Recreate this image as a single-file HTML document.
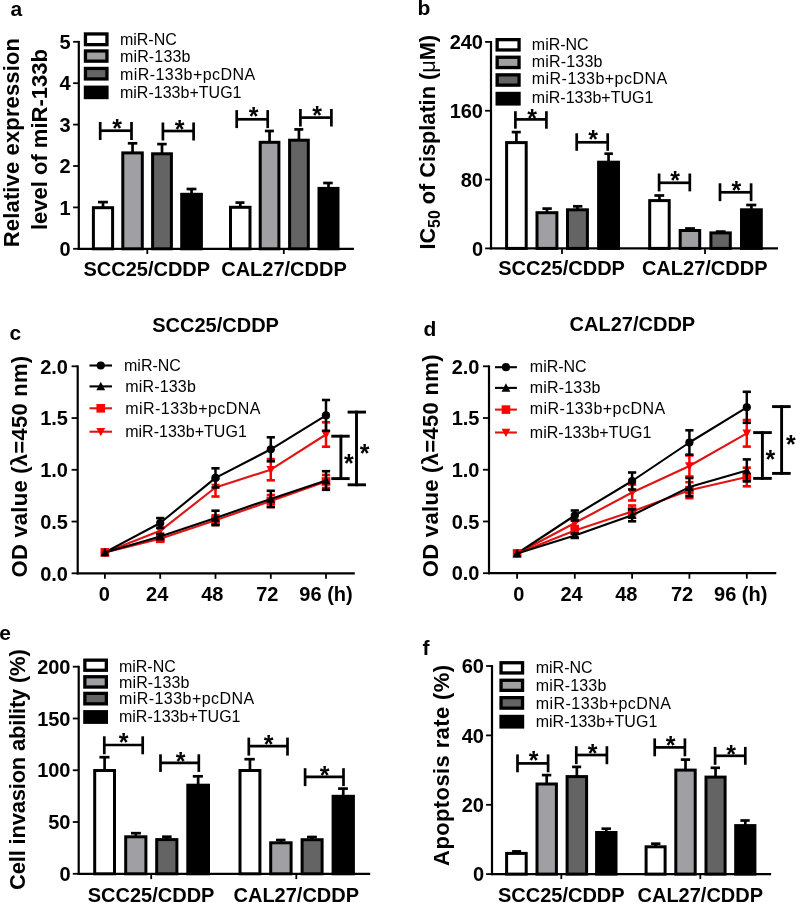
<!DOCTYPE html><html><head><meta charset="utf-8"><style>html,body{margin:0;padding:0;background:#fff;overflow:hidden;}svg{display:block;font-family:"Liberation Sans",sans-serif;will-change:transform;}</style></head><body>
<svg width="796" height="903" viewBox="0 0 796 903">
<rect width="796" height="903" fill="#fff"/>
<line x1="78.80" y1="40.90" x2="78.80" y2="249.90" stroke="#000" stroke-width="2.2" stroke-linecap="butt"/>
<line x1="73.10" y1="248.80" x2="78.80" y2="248.80" stroke="#000" stroke-width="1.8" stroke-linecap="butt"/>
<text x="70.50" y="256.00" font-size="20" font-weight="bold" text-anchor="end">0</text>
<line x1="73.10" y1="207.40" x2="78.80" y2="207.40" stroke="#000" stroke-width="1.8" stroke-linecap="butt"/>
<text x="70.50" y="214.60" font-size="20" font-weight="bold" text-anchor="end">1</text>
<line x1="73.10" y1="166.00" x2="78.80" y2="166.00" stroke="#000" stroke-width="1.8" stroke-linecap="butt"/>
<text x="70.50" y="173.20" font-size="20" font-weight="bold" text-anchor="end">2</text>
<line x1="73.10" y1="124.60" x2="78.80" y2="124.60" stroke="#000" stroke-width="1.8" stroke-linecap="butt"/>
<text x="70.50" y="131.80" font-size="20" font-weight="bold" text-anchor="end">3</text>
<line x1="73.10" y1="83.20" x2="78.80" y2="83.20" stroke="#000" stroke-width="1.8" stroke-linecap="butt"/>
<text x="70.50" y="90.40" font-size="20" font-weight="bold" text-anchor="end">4</text>
<line x1="73.10" y1="41.80" x2="78.80" y2="41.80" stroke="#000" stroke-width="1.8" stroke-linecap="butt"/>
<text x="70.50" y="49.00" font-size="20" font-weight="bold" text-anchor="end">5</text>
<line x1="77.70" y1="248.80" x2="354.00" y2="248.80" stroke="#000" stroke-width="2.2" stroke-linecap="butt"/>
<line x1="147.30" y1="248.80" x2="147.30" y2="254.00" stroke="#000" stroke-width="1.8" stroke-linecap="butt"/>
<line x1="283.80" y1="248.80" x2="283.80" y2="254.00" stroke="#000" stroke-width="1.8" stroke-linecap="butt"/>
<line x1="103.00" y1="207.20" x2="103.00" y2="202.10" stroke="#000" stroke-width="2.7" stroke-linecap="butt"/>
<line x1="98.00" y1="202.10" x2="107.90" y2="202.10" stroke="#000" stroke-width="2.7" stroke-linecap="butt"/>
<rect x="93.40" y="207.70" width="19.20" height="41.10" fill="#fff" stroke="#000" stroke-width="3.0"/>
<line x1="132.55" y1="152.40" x2="132.55" y2="143.30" stroke="#000" stroke-width="2.7" stroke-linecap="butt"/>
<line x1="127.80" y1="143.30" x2="137.30" y2="143.30" stroke="#000" stroke-width="2.7" stroke-linecap="butt"/>
<rect x="122.80" y="152.90" width="19.50" height="95.90" fill="#a0a0a4" stroke="#000" stroke-width="3.0"/>
<line x1="162.00" y1="153.30" x2="162.00" y2="144.10" stroke="#000" stroke-width="2.7" stroke-linecap="butt"/>
<line x1="157.20" y1="144.10" x2="166.70" y2="144.10" stroke="#000" stroke-width="2.7" stroke-linecap="butt"/>
<rect x="152.60" y="153.80" width="18.80" height="95.00" fill="#646464" stroke="#000" stroke-width="3.0"/>
<line x1="191.55" y1="193.80" x2="191.55" y2="189.00" stroke="#000" stroke-width="2.7" stroke-linecap="butt"/>
<line x1="186.60" y1="189.00" x2="196.40" y2="189.00" stroke="#000" stroke-width="2.7" stroke-linecap="butt"/>
<rect x="181.70" y="194.30" width="19.70" height="54.50" fill="#000" stroke="#000" stroke-width="3.0"/>
<line x1="240.25" y1="206.80" x2="240.25" y2="202.60" stroke="#000" stroke-width="2.7" stroke-linecap="butt"/>
<line x1="235.50" y1="202.60" x2="244.50" y2="202.60" stroke="#000" stroke-width="2.7" stroke-linecap="butt"/>
<rect x="230.50" y="207.30" width="19.50" height="41.50" fill="#fff" stroke="#000" stroke-width="3.0"/>
<line x1="269.55" y1="141.80" x2="269.55" y2="131.00" stroke="#000" stroke-width="2.7" stroke-linecap="butt"/>
<line x1="264.90" y1="131.00" x2="273.90" y2="131.00" stroke="#000" stroke-width="2.7" stroke-linecap="butt"/>
<rect x="260.20" y="142.30" width="18.70" height="106.50" fill="#a0a0a4" stroke="#000" stroke-width="3.0"/>
<line x1="298.95" y1="139.70" x2="298.95" y2="129.40" stroke="#000" stroke-width="2.7" stroke-linecap="butt"/>
<line x1="294.30" y1="129.40" x2="303.30" y2="129.40" stroke="#000" stroke-width="2.7" stroke-linecap="butt"/>
<rect x="289.60" y="140.20" width="18.70" height="108.60" fill="#646464" stroke="#000" stroke-width="3.0"/>
<line x1="328.50" y1="187.90" x2="328.50" y2="183.00" stroke="#000" stroke-width="2.7" stroke-linecap="butt"/>
<line x1="323.20" y1="183.00" x2="332.70" y2="183.00" stroke="#000" stroke-width="2.7" stroke-linecap="butt"/>
<rect x="319.00" y="188.40" width="19.00" height="60.40" fill="#000" stroke="#000" stroke-width="3.0"/>
<line x1="100.20" y1="122.00" x2="100.20" y2="140.00" stroke="#000" stroke-width="2.7" stroke-linecap="butt"/>
<line x1="131.50" y1="122.00" x2="131.50" y2="140.00" stroke="#000" stroke-width="2.7" stroke-linecap="butt"/>
<line x1="100.20" y1="130.70" x2="131.50" y2="130.70" stroke="#000" stroke-width="2.7" stroke-linecap="butt"/>
<text x="117.20" y="137.45" font-size="25" font-weight="bold" text-anchor="middle">*</text>
<line x1="162.90" y1="122.50" x2="162.90" y2="140.50" stroke="#000" stroke-width="2.7" stroke-linecap="butt"/>
<line x1="193.60" y1="122.50" x2="193.60" y2="140.50" stroke="#000" stroke-width="2.7" stroke-linecap="butt"/>
<line x1="162.90" y1="131.00" x2="193.60" y2="131.00" stroke="#000" stroke-width="2.7" stroke-linecap="butt"/>
<text x="179.70" y="137.75" font-size="25" font-weight="bold" text-anchor="middle">*</text>
<line x1="236.70" y1="110.10" x2="236.70" y2="128.10" stroke="#000" stroke-width="2.7" stroke-linecap="butt"/>
<line x1="267.70" y1="110.10" x2="267.70" y2="128.10" stroke="#000" stroke-width="2.7" stroke-linecap="butt"/>
<line x1="236.70" y1="119.30" x2="267.70" y2="119.30" stroke="#000" stroke-width="2.7" stroke-linecap="butt"/>
<text x="253.50" y="125.15" font-size="25" font-weight="bold" text-anchor="middle">*</text>
<line x1="300.40" y1="109.00" x2="300.40" y2="126.50" stroke="#000" stroke-width="2.7" stroke-linecap="butt"/>
<line x1="331.40" y1="109.00" x2="331.40" y2="126.50" stroke="#000" stroke-width="2.7" stroke-linecap="butt"/>
<line x1="300.40" y1="117.60" x2="331.40" y2="117.60" stroke="#000" stroke-width="2.7" stroke-linecap="butt"/>
<text x="317.20" y="123.55" font-size="25" font-weight="bold" text-anchor="middle">*</text>
<text x="146.80" y="276.00" font-size="20" font-weight="bold" text-anchor="middle">SCC25/CDDP</text>
<text x="284.00" y="276.00" font-size="20" font-weight="bold" text-anchor="middle">CAL27/CDDP</text>
<rect x="85.45" y="33.95" width="21.50" height="10.70" fill="#fff" stroke="#000" stroke-width="3.3"/>
<text x="119.90" y="45.30" font-size="16" font-weight="normal" text-anchor="start">miR-NC</text>
<rect x="85.45" y="50.95" width="21.50" height="10.20" fill="#a0a0a4" stroke="#000" stroke-width="3.3"/>
<text x="119.90" y="62.00" font-size="16" font-weight="normal" text-anchor="start" textLength="70.6" lengthAdjust="spacing">miR-133b</text>
<rect x="85.45" y="68.45" width="21.50" height="10.50" fill="#646464" stroke="#000" stroke-width="3.3"/>
<text x="119.90" y="80.10" font-size="16" font-weight="normal" text-anchor="start" textLength="135.3" lengthAdjust="spacing">miR-133b+pcDNA</text>
<rect x="85.45" y="87.25" width="21.50" height="10.30" fill="#000" stroke="#000" stroke-width="3.3"/>
<text x="119.90" y="97.60" font-size="16" font-weight="normal" text-anchor="start" textLength="121.6" lengthAdjust="spacing">miR-133b+TUG1</text>
<text x="10.50" y="15.50" font-size="21" font-weight="bold" text-anchor="start">a</text>
<text transform="translate(19.40,142.55) rotate(-90)" x="0" y="0" font-size="22" font-weight="bold" text-anchor="middle" textLength="209.2" lengthAdjust="spacing">Relative expression</text>
<text transform="translate(47.10,139.60) rotate(-90)" x="0" y="0" font-size="22" font-weight="bold" text-anchor="middle">level of miR-133b</text>
<line x1="491.00" y1="41.00" x2="491.00" y2="249.50" stroke="#000" stroke-width="2.2" stroke-linecap="butt"/>
<line x1="485.10" y1="248.40" x2="491.00" y2="248.40" stroke="#000" stroke-width="1.8" stroke-linecap="butt"/>
<text x="483.00" y="255.60" font-size="20" font-weight="bold" text-anchor="end">0</text>
<line x1="485.10" y1="179.57" x2="491.00" y2="179.57" stroke="#000" stroke-width="1.8" stroke-linecap="butt"/>
<text x="483.00" y="186.77" font-size="20" font-weight="bold" text-anchor="end">80</text>
<line x1="485.10" y1="110.73" x2="491.00" y2="110.73" stroke="#000" stroke-width="1.8" stroke-linecap="butt"/>
<text x="483.00" y="117.93" font-size="20" font-weight="bold" text-anchor="end">160</text>
<line x1="485.10" y1="41.90" x2="491.00" y2="41.90" stroke="#000" stroke-width="1.8" stroke-linecap="butt"/>
<text x="483.00" y="49.10" font-size="20" font-weight="bold" text-anchor="end">240</text>
<line x1="489.90" y1="248.40" x2="778.00" y2="248.40" stroke="#000" stroke-width="2.2" stroke-linecap="butt"/>
<line x1="562.00" y1="248.40" x2="562.00" y2="254.00" stroke="#000" stroke-width="1.8" stroke-linecap="butt"/>
<line x1="705.00" y1="248.40" x2="705.00" y2="254.00" stroke="#000" stroke-width="1.8" stroke-linecap="butt"/>
<line x1="516.40" y1="142.10" x2="516.40" y2="132.10" stroke="#000" stroke-width="2.7" stroke-linecap="butt"/>
<line x1="511.70" y1="132.10" x2="520.80" y2="132.10" stroke="#000" stroke-width="2.7" stroke-linecap="butt"/>
<rect x="506.60" y="142.60" width="19.60" height="105.80" fill="#fff" stroke="#000" stroke-width="3.0"/>
<line x1="546.95" y1="212.20" x2="546.95" y2="208.60" stroke="#000" stroke-width="2.7" stroke-linecap="butt"/>
<line x1="542.40" y1="208.60" x2="551.80" y2="208.60" stroke="#000" stroke-width="2.7" stroke-linecap="butt"/>
<rect x="537.00" y="212.70" width="19.90" height="35.70" fill="#a0a0a4" stroke="#000" stroke-width="3.0"/>
<line x1="577.45" y1="209.30" x2="577.45" y2="206.30" stroke="#000" stroke-width="2.7" stroke-linecap="butt"/>
<line x1="573.00" y1="206.30" x2="582.40" y2="206.30" stroke="#000" stroke-width="2.7" stroke-linecap="butt"/>
<rect x="567.50" y="209.80" width="19.90" height="38.60" fill="#646464" stroke="#000" stroke-width="3.0"/>
<line x1="608.55" y1="161.70" x2="608.55" y2="153.70" stroke="#000" stroke-width="2.7" stroke-linecap="butt"/>
<line x1="604.40" y1="153.70" x2="612.90" y2="153.70" stroke="#000" stroke-width="2.7" stroke-linecap="butt"/>
<rect x="598.60" y="162.20" width="19.90" height="86.20" fill="#000" stroke="#000" stroke-width="3.0"/>
<line x1="659.45" y1="200.10" x2="659.45" y2="195.50" stroke="#000" stroke-width="2.7" stroke-linecap="butt"/>
<line x1="654.40" y1="195.50" x2="664.20" y2="195.50" stroke="#000" stroke-width="2.7" stroke-linecap="butt"/>
<rect x="649.70" y="200.60" width="19.50" height="47.80" fill="#fff" stroke="#000" stroke-width="3.0"/>
<line x1="689.95" y1="230.00" x2="689.95" y2="228.50" stroke="#000" stroke-width="2.7" stroke-linecap="butt"/>
<line x1="685.10" y1="228.50" x2="694.90" y2="228.50" stroke="#000" stroke-width="2.7" stroke-linecap="butt"/>
<rect x="680.20" y="230.50" width="19.50" height="17.90" fill="#a0a0a4" stroke="#000" stroke-width="3.0"/>
<line x1="720.60" y1="232.40" x2="720.60" y2="231.60" stroke="#000" stroke-width="2.7" stroke-linecap="butt"/>
<line x1="715.80" y1="231.60" x2="725.60" y2="231.60" stroke="#000" stroke-width="2.7" stroke-linecap="butt"/>
<rect x="710.90" y="232.90" width="19.40" height="15.50" fill="#646464" stroke="#000" stroke-width="3.0"/>
<line x1="751.40" y1="209.30" x2="751.40" y2="205.00" stroke="#000" stroke-width="2.7" stroke-linecap="butt"/>
<line x1="746.20" y1="205.00" x2="756.30" y2="205.00" stroke="#000" stroke-width="2.7" stroke-linecap="butt"/>
<rect x="741.50" y="209.80" width="19.80" height="38.60" fill="#000" stroke="#000" stroke-width="3.0"/>
<line x1="515.40" y1="111.20" x2="515.40" y2="128.70" stroke="#000" stroke-width="2.7" stroke-linecap="butt"/>
<line x1="546.40" y1="111.20" x2="546.40" y2="128.70" stroke="#000" stroke-width="2.7" stroke-linecap="butt"/>
<line x1="515.40" y1="119.40" x2="546.40" y2="119.40" stroke="#000" stroke-width="2.7" stroke-linecap="butt"/>
<text x="532.20" y="126.65" font-size="25" font-weight="bold" text-anchor="middle">*</text>
<line x1="576.70" y1="133.30" x2="576.70" y2="150.80" stroke="#000" stroke-width="2.7" stroke-linecap="butt"/>
<line x1="607.70" y1="133.30" x2="607.70" y2="150.80" stroke="#000" stroke-width="2.7" stroke-linecap="butt"/>
<line x1="576.70" y1="142.30" x2="607.70" y2="142.30" stroke="#000" stroke-width="2.7" stroke-linecap="butt"/>
<text x="593.00" y="148.35" font-size="25" font-weight="bold" text-anchor="middle">*</text>
<line x1="659.10" y1="173.50" x2="659.10" y2="191.40" stroke="#000" stroke-width="2.7" stroke-linecap="butt"/>
<line x1="689.80" y1="173.50" x2="689.80" y2="191.40" stroke="#000" stroke-width="2.7" stroke-linecap="butt"/>
<line x1="659.10" y1="182.80" x2="689.80" y2="182.80" stroke="#000" stroke-width="2.7" stroke-linecap="butt"/>
<text x="675.10" y="189.25" font-size="25" font-weight="bold" text-anchor="middle">*</text>
<line x1="720.00" y1="183.30" x2="720.00" y2="201.20" stroke="#000" stroke-width="2.7" stroke-linecap="butt"/>
<line x1="751.10" y1="183.30" x2="751.10" y2="201.20" stroke="#000" stroke-width="2.7" stroke-linecap="butt"/>
<line x1="720.00" y1="192.30" x2="751.10" y2="192.30" stroke="#000" stroke-width="2.7" stroke-linecap="butt"/>
<text x="736.40" y="199.15" font-size="25" font-weight="bold" text-anchor="middle">*</text>
<text x="561.60" y="274.70" font-size="20" font-weight="bold" text-anchor="middle">SCC25/CDDP</text>
<text x="704.70" y="274.70" font-size="20" font-weight="bold" text-anchor="middle">CAL27/CDDP</text>
<rect x="497.15" y="39.65" width="21.90" height="10.30" fill="#fff" stroke="#000" stroke-width="3.3"/>
<text x="531.80" y="49.60" font-size="16" font-weight="normal" text-anchor="start">miR-NC</text>
<rect x="497.15" y="57.25" width="21.90" height="10.30" fill="#a0a0a4" stroke="#000" stroke-width="3.3"/>
<text x="531.80" y="66.70" font-size="16" font-weight="normal" text-anchor="start" textLength="70.6" lengthAdjust="spacing">miR-133b</text>
<rect x="497.15" y="74.85" width="21.90" height="10.30" fill="#646464" stroke="#000" stroke-width="3.3"/>
<text x="531.80" y="84.30" font-size="16" font-weight="normal" text-anchor="start" textLength="135.3" lengthAdjust="spacing">miR-133b+pcDNA</text>
<rect x="497.15" y="93.45" width="21.90" height="10.50" fill="#000" stroke="#000" stroke-width="3.3"/>
<text x="531.80" y="102.90" font-size="16" font-weight="normal" text-anchor="start" textLength="121.6" lengthAdjust="spacing">miR-133b+TUG1</text>
<text x="417.50" y="14.80" font-size="21" font-weight="bold" text-anchor="start">b</text>
<text transform="translate(435.3,142.3) rotate(-90)" x="0" y="0" font-size="22" font-weight="bold" text-anchor="middle" textLength="214.6" lengthAdjust="spacingAndGlyphs">IC<tspan font-size="16" dy="4.5">50</tspan><tspan dy="-4.5"> of Cisplatin (</tspan><tspan font-weight="normal">μ</tspan>M)</text>
<line x1="77.70" y1="365.40" x2="77.70" y2="574.40" stroke="#000" stroke-width="2.2" stroke-linecap="butt"/>
<line x1="71.60" y1="573.30" x2="77.70" y2="573.30" stroke="#000" stroke-width="1.8" stroke-linecap="butt"/>
<text x="68.00" y="580.50" font-size="20" font-weight="bold" text-anchor="end">0.0</text>
<line x1="71.60" y1="521.55" x2="77.70" y2="521.55" stroke="#000" stroke-width="1.8" stroke-linecap="butt"/>
<text x="68.00" y="528.75" font-size="20" font-weight="bold" text-anchor="end">0.5</text>
<line x1="71.60" y1="469.80" x2="77.70" y2="469.80" stroke="#000" stroke-width="1.8" stroke-linecap="butt"/>
<text x="68.00" y="477.00" font-size="20" font-weight="bold" text-anchor="end">1.0</text>
<line x1="71.60" y1="418.05" x2="77.70" y2="418.05" stroke="#000" stroke-width="1.8" stroke-linecap="butt"/>
<text x="68.00" y="425.25" font-size="20" font-weight="bold" text-anchor="end">1.5</text>
<line x1="71.60" y1="366.30" x2="77.70" y2="366.30" stroke="#000" stroke-width="1.8" stroke-linecap="butt"/>
<text x="68.00" y="373.50" font-size="20" font-weight="bold" text-anchor="end">2.0</text>
<line x1="76.60" y1="573.30" x2="354.80" y2="573.30" stroke="#000" stroke-width="2.2" stroke-linecap="butt"/>
<line x1="104.90" y1="573.30" x2="104.90" y2="578.80" stroke="#000" stroke-width="1.8" stroke-linecap="butt"/>
<line x1="160.20" y1="573.30" x2="160.20" y2="578.80" stroke="#000" stroke-width="1.8" stroke-linecap="butt"/>
<line x1="215.50" y1="573.30" x2="215.50" y2="578.80" stroke="#000" stroke-width="1.8" stroke-linecap="butt"/>
<line x1="270.80" y1="573.30" x2="270.80" y2="578.80" stroke="#000" stroke-width="1.8" stroke-linecap="butt"/>
<line x1="326.00" y1="573.30" x2="326.00" y2="578.80" stroke="#000" stroke-width="1.8" stroke-linecap="butt"/>
<text x="104.20" y="600.70" font-size="20" font-weight="bold" text-anchor="middle">0</text>
<text x="157.20" y="600.70" font-size="20" font-weight="bold" text-anchor="middle">24</text>
<text x="212.30" y="600.70" font-size="20" font-weight="bold" text-anchor="middle">48</text>
<text x="267.30" y="600.70" font-size="20" font-weight="bold" text-anchor="middle">72</text>
<text x="326.00" y="600.70" font-size="20" font-weight="bold" text-anchor="middle">96 (h)</text>
<line x1="160.20" y1="527.80" x2="160.20" y2="533.80" stroke="#ff0000" stroke-width="2.5" stroke-linecap="butt"/>
<line x1="156.10" y1="527.80" x2="164.30" y2="527.80" stroke="#ff0000" stroke-width="2.6" stroke-linecap="butt"/>
<line x1="156.10" y1="533.80" x2="164.30" y2="533.80" stroke="#ff0000" stroke-width="2.6" stroke-linecap="butt"/>
<line x1="215.50" y1="478.50" x2="215.50" y2="496.50" stroke="#ff0000" stroke-width="2.5" stroke-linecap="butt"/>
<line x1="211.40" y1="478.50" x2="219.60" y2="478.50" stroke="#ff0000" stroke-width="2.6" stroke-linecap="butt"/>
<line x1="211.40" y1="496.50" x2="219.60" y2="496.50" stroke="#ff0000" stroke-width="2.6" stroke-linecap="butt"/>
<line x1="270.80" y1="459.10" x2="270.80" y2="480.30" stroke="#ff0000" stroke-width="2.5" stroke-linecap="butt"/>
<line x1="266.70" y1="459.10" x2="274.90" y2="459.10" stroke="#ff0000" stroke-width="2.6" stroke-linecap="butt"/>
<line x1="266.70" y1="480.30" x2="274.90" y2="480.30" stroke="#ff0000" stroke-width="2.6" stroke-linecap="butt"/>
<line x1="326.00" y1="422.30" x2="326.00" y2="446.70" stroke="#ff0000" stroke-width="2.5" stroke-linecap="butt"/>
<line x1="321.90" y1="422.30" x2="330.10" y2="422.30" stroke="#ff0000" stroke-width="2.6" stroke-linecap="butt"/>
<line x1="321.90" y1="446.70" x2="330.10" y2="446.70" stroke="#ff0000" stroke-width="2.6" stroke-linecap="butt"/>
<polyline points="104.90,552.40 160.20,530.80 215.50,487.50 270.80,469.70 326.00,434.50" fill="none" stroke="#e01414" stroke-width="2.1" stroke-linejoin="round"/>
<path d="M100.50,548.71L109.30,548.71L104.90,556.91Z" fill="#ff0000"/>
<path d="M155.80,527.11L164.60,527.11L160.20,535.31Z" fill="#ff0000"/>
<path d="M211.10,483.81L219.90,483.81L215.50,492.01Z" fill="#ff0000"/>
<path d="M266.40,466.01L275.20,466.01L270.80,474.21Z" fill="#ff0000"/>
<path d="M321.60,430.81L330.40,430.81L326.00,439.01Z" fill="#ff0000"/>
<line x1="160.20" y1="518.10" x2="160.20" y2="527.90" stroke="#000" stroke-width="2.5" stroke-linecap="butt"/>
<line x1="156.10" y1="518.10" x2="164.30" y2="518.10" stroke="#000" stroke-width="2.6" stroke-linecap="butt"/>
<line x1="156.10" y1="527.90" x2="164.30" y2="527.90" stroke="#000" stroke-width="2.6" stroke-linecap="butt"/>
<line x1="215.50" y1="468.30" x2="215.50" y2="487.50" stroke="#000" stroke-width="2.5" stroke-linecap="butt"/>
<line x1="211.40" y1="468.30" x2="219.60" y2="468.30" stroke="#000" stroke-width="2.6" stroke-linecap="butt"/>
<line x1="211.40" y1="487.50" x2="219.60" y2="487.50" stroke="#000" stroke-width="2.6" stroke-linecap="butt"/>
<line x1="270.80" y1="437.30" x2="270.80" y2="461.30" stroke="#000" stroke-width="2.5" stroke-linecap="butt"/>
<line x1="266.70" y1="437.30" x2="274.90" y2="437.30" stroke="#000" stroke-width="2.6" stroke-linecap="butt"/>
<line x1="266.70" y1="461.30" x2="274.90" y2="461.30" stroke="#000" stroke-width="2.6" stroke-linecap="butt"/>
<line x1="326.00" y1="400.00" x2="326.00" y2="430.80" stroke="#000" stroke-width="2.5" stroke-linecap="butt"/>
<line x1="321.90" y1="400.00" x2="330.10" y2="400.00" stroke="#000" stroke-width="2.6" stroke-linecap="butt"/>
<line x1="321.90" y1="430.80" x2="330.10" y2="430.80" stroke="#000" stroke-width="2.6" stroke-linecap="butt"/>
<polyline points="104.90,552.40 160.20,523.00 215.50,477.90 270.80,449.30 326.00,415.40" fill="none" stroke="#000" stroke-width="2.1" stroke-linejoin="round"/>
<circle cx="104.90" cy="552.40" r="4.1" fill="#000"/>
<circle cx="160.20" cy="523.00" r="4.1" fill="#000"/>
<circle cx="215.50" cy="477.90" r="4.1" fill="#000"/>
<circle cx="270.80" cy="449.30" r="4.1" fill="#000"/>
<circle cx="326.00" cy="415.40" r="4.1" fill="#000"/>
<line x1="160.20" y1="536.30" x2="160.20" y2="541.30" stroke="#ff0000" stroke-width="2.5" stroke-linecap="butt"/>
<line x1="156.10" y1="536.30" x2="164.30" y2="536.30" stroke="#ff0000" stroke-width="2.6" stroke-linecap="butt"/>
<line x1="156.10" y1="541.30" x2="164.30" y2="541.30" stroke="#ff0000" stroke-width="2.6" stroke-linecap="butt"/>
<line x1="215.50" y1="515.40" x2="215.50" y2="525.00" stroke="#ff0000" stroke-width="2.5" stroke-linecap="butt"/>
<line x1="211.40" y1="515.40" x2="219.60" y2="515.40" stroke="#ff0000" stroke-width="2.6" stroke-linecap="butt"/>
<line x1="211.40" y1="525.00" x2="219.60" y2="525.00" stroke="#ff0000" stroke-width="2.6" stroke-linecap="butt"/>
<line x1="270.80" y1="495.00" x2="270.80" y2="507.00" stroke="#ff0000" stroke-width="2.5" stroke-linecap="butt"/>
<line x1="266.70" y1="495.00" x2="274.90" y2="495.00" stroke="#ff0000" stroke-width="2.6" stroke-linecap="butt"/>
<line x1="266.70" y1="507.00" x2="274.90" y2="507.00" stroke="#ff0000" stroke-width="2.6" stroke-linecap="butt"/>
<line x1="326.00" y1="475.00" x2="326.00" y2="488.00" stroke="#ff0000" stroke-width="2.5" stroke-linecap="butt"/>
<line x1="321.90" y1="475.00" x2="330.10" y2="475.00" stroke="#ff0000" stroke-width="2.6" stroke-linecap="butt"/>
<line x1="321.90" y1="488.00" x2="330.10" y2="488.00" stroke="#ff0000" stroke-width="2.6" stroke-linecap="butt"/>
<polyline points="104.90,552.40 160.20,538.80 215.50,520.20 270.80,501.00 326.00,481.50" fill="none" stroke="#e01414" stroke-width="2.1" stroke-linejoin="round"/>
<rect x="100.60" y="548.10" width="8.6" height="8.6" fill="#ff0000"/>
<rect x="155.90" y="534.50" width="8.6" height="8.6" fill="#ff0000"/>
<rect x="211.20" y="515.90" width="8.6" height="8.6" fill="#ff0000"/>
<rect x="266.50" y="496.70" width="8.6" height="8.6" fill="#ff0000"/>
<rect x="321.70" y="477.20" width="8.6" height="8.6" fill="#ff0000"/>
<line x1="160.20" y1="534.00" x2="160.20" y2="539.00" stroke="#000" stroke-width="2.5" stroke-linecap="butt"/>
<line x1="156.10" y1="534.00" x2="164.30" y2="534.00" stroke="#000" stroke-width="2.6" stroke-linecap="butt"/>
<line x1="156.10" y1="539.00" x2="164.30" y2="539.00" stroke="#000" stroke-width="2.6" stroke-linecap="butt"/>
<line x1="215.50" y1="510.70" x2="215.50" y2="525.10" stroke="#000" stroke-width="2.5" stroke-linecap="butt"/>
<line x1="211.40" y1="510.70" x2="219.60" y2="510.70" stroke="#000" stroke-width="2.6" stroke-linecap="butt"/>
<line x1="211.40" y1="525.10" x2="219.60" y2="525.10" stroke="#000" stroke-width="2.6" stroke-linecap="butt"/>
<line x1="270.80" y1="490.80" x2="270.80" y2="507.00" stroke="#000" stroke-width="2.5" stroke-linecap="butt"/>
<line x1="266.70" y1="490.80" x2="274.90" y2="490.80" stroke="#000" stroke-width="2.6" stroke-linecap="butt"/>
<line x1="266.70" y1="507.00" x2="274.90" y2="507.00" stroke="#000" stroke-width="2.6" stroke-linecap="butt"/>
<line x1="326.00" y1="471.20" x2="326.00" y2="489.80" stroke="#000" stroke-width="2.5" stroke-linecap="butt"/>
<line x1="321.90" y1="471.20" x2="330.10" y2="471.20" stroke="#000" stroke-width="2.6" stroke-linecap="butt"/>
<line x1="321.90" y1="489.80" x2="330.10" y2="489.80" stroke="#000" stroke-width="2.6" stroke-linecap="butt"/>
<polyline points="104.90,552.40 160.20,536.50 215.50,517.90 270.80,498.90 326.00,480.50" fill="none" stroke="#000" stroke-width="2.1" stroke-linejoin="round"/>
<path d="M100.50,556.18L109.30,556.18L104.90,547.78Z" fill="#000"/>
<path d="M155.80,540.28L164.60,540.28L160.20,531.88Z" fill="#000"/>
<path d="M211.10,521.68L219.90,521.68L215.50,513.28Z" fill="#000"/>
<path d="M266.40,502.68L275.20,502.68L270.80,494.28Z" fill="#000"/>
<path d="M321.60,484.28L330.40,484.28L326.00,475.88Z" fill="#000"/>
<line x1="340.90" y1="434.80" x2="340.90" y2="480.00" stroke="#000" stroke-width="2.9" stroke-linecap="butt"/>
<line x1="331.30" y1="436.20" x2="349.70" y2="436.20" stroke="#000" stroke-width="2.9" stroke-linecap="butt"/>
<line x1="331.30" y1="478.60" x2="349.70" y2="478.60" stroke="#000" stroke-width="2.9" stroke-linecap="butt"/>
<text x="348.80" y="472.15" font-size="25" font-weight="bold" text-anchor="middle">*</text>
<line x1="356.50" y1="410.70" x2="356.50" y2="486.20" stroke="#000" stroke-width="2.9" stroke-linecap="butt"/>
<line x1="347.60" y1="412.10" x2="366.00" y2="412.10" stroke="#000" stroke-width="2.9" stroke-linecap="butt"/>
<line x1="347.60" y1="484.80" x2="366.00" y2="484.80" stroke="#000" stroke-width="2.9" stroke-linecap="butt"/>
<text x="364.50" y="462.15" font-size="25" font-weight="bold" text-anchor="middle">*</text>
<text x="215.60" y="332.10" font-size="20" font-weight="bold" text-anchor="middle">SCC25/CDDP</text>
<line x1="89.50" y1="365.50" x2="112.00" y2="365.50" stroke="#000" stroke-width="2.1" stroke-linecap="butt"/>
<circle cx="100.75" cy="365.50" r="4.1" fill="#000"/>
<text x="124.00" y="370.90" font-size="16" font-weight="normal" text-anchor="start">miR-NC</text>
<line x1="89.50" y1="386.40" x2="112.00" y2="386.40" stroke="#000" stroke-width="2.1" stroke-linecap="butt"/>
<path d="M96.35,390.18L105.15,390.18L100.75,381.78Z" fill="#000"/>
<text x="125.20" y="392.30" font-size="16" font-weight="normal" text-anchor="start" textLength="70.6" lengthAdjust="spacing">miR-133b</text>
<line x1="89.50" y1="408.30" x2="112.00" y2="408.30" stroke="#e01414" stroke-width="2.1" stroke-linecap="butt"/>
<rect x="96.45" y="404.00" width="8.6" height="8.6" fill="#ff0000"/>
<text x="125.20" y="413.80" font-size="16" font-weight="normal" text-anchor="start" textLength="135.3" lengthAdjust="spacing">miR-133b+pcDNA</text>
<line x1="89.50" y1="431.70" x2="112.00" y2="431.70" stroke="#e01414" stroke-width="2.1" stroke-linecap="butt"/>
<path d="M96.35,428.01L105.15,428.01L100.75,436.21Z" fill="#ff0000"/>
<text x="125.20" y="437.40" font-size="16" font-weight="normal" text-anchor="start" textLength="121.6" lengthAdjust="spacing">miR-133b+TUG1</text>
<text x="9.50" y="339.60" font-size="21" font-weight="bold" text-anchor="start">c</text>
<text transform="translate(26.80,466.70) rotate(-90)" x="0" y="0" font-size="22" font-weight="bold" text-anchor="middle" textLength="221.6" lengthAdjust="spacing">OD value (λ=450 nm)</text>
<line x1="489.00" y1="365.40" x2="489.00" y2="574.30" stroke="#000" stroke-width="2.2" stroke-linecap="butt"/>
<line x1="483.00" y1="573.20" x2="489.00" y2="573.20" stroke="#000" stroke-width="1.8" stroke-linecap="butt"/>
<text x="479.50" y="580.40" font-size="20" font-weight="bold" text-anchor="end">0.0</text>
<line x1="483.00" y1="521.47" x2="489.00" y2="521.47" stroke="#000" stroke-width="1.8" stroke-linecap="butt"/>
<text x="479.50" y="528.67" font-size="20" font-weight="bold" text-anchor="end">0.5</text>
<line x1="483.00" y1="469.75" x2="489.00" y2="469.75" stroke="#000" stroke-width="1.8" stroke-linecap="butt"/>
<text x="479.50" y="476.95" font-size="20" font-weight="bold" text-anchor="end">1.0</text>
<line x1="483.00" y1="418.02" x2="489.00" y2="418.02" stroke="#000" stroke-width="1.8" stroke-linecap="butt"/>
<text x="479.50" y="425.22" font-size="20" font-weight="bold" text-anchor="end">1.5</text>
<line x1="483.00" y1="366.30" x2="489.00" y2="366.30" stroke="#000" stroke-width="1.8" stroke-linecap="butt"/>
<text x="479.50" y="373.50" font-size="20" font-weight="bold" text-anchor="end">2.0</text>
<line x1="487.90" y1="573.20" x2="776.30" y2="573.20" stroke="#000" stroke-width="2.2" stroke-linecap="butt"/>
<line x1="517.10" y1="573.20" x2="517.10" y2="578.70" stroke="#000" stroke-width="1.8" stroke-linecap="butt"/>
<line x1="574.80" y1="573.20" x2="574.80" y2="578.70" stroke="#000" stroke-width="1.8" stroke-linecap="butt"/>
<line x1="632.10" y1="573.20" x2="632.10" y2="578.70" stroke="#000" stroke-width="1.8" stroke-linecap="butt"/>
<line x1="689.40" y1="573.20" x2="689.40" y2="578.70" stroke="#000" stroke-width="1.8" stroke-linecap="butt"/>
<line x1="746.80" y1="573.20" x2="746.80" y2="578.70" stroke="#000" stroke-width="1.8" stroke-linecap="butt"/>
<text x="518.70" y="600.70" font-size="20" font-weight="bold" text-anchor="middle">0</text>
<text x="571.60" y="600.70" font-size="20" font-weight="bold" text-anchor="middle">24</text>
<text x="626.30" y="600.70" font-size="20" font-weight="bold" text-anchor="middle">48</text>
<text x="682.00" y="600.70" font-size="20" font-weight="bold" text-anchor="middle">72</text>
<text x="740.70" y="600.70" font-size="20" font-weight="bold" text-anchor="middle">96 (h)</text>
<line x1="574.80" y1="520.00" x2="574.80" y2="526.00" stroke="#ff0000" stroke-width="2.5" stroke-linecap="butt"/>
<line x1="570.70" y1="520.00" x2="578.90" y2="520.00" stroke="#ff0000" stroke-width="2.6" stroke-linecap="butt"/>
<line x1="570.70" y1="526.00" x2="578.90" y2="526.00" stroke="#ff0000" stroke-width="2.6" stroke-linecap="butt"/>
<line x1="632.10" y1="484.50" x2="632.10" y2="500.50" stroke="#ff0000" stroke-width="2.5" stroke-linecap="butt"/>
<line x1="628.00" y1="484.50" x2="636.20" y2="484.50" stroke="#ff0000" stroke-width="2.6" stroke-linecap="butt"/>
<line x1="628.00" y1="500.50" x2="636.20" y2="500.50" stroke="#ff0000" stroke-width="2.6" stroke-linecap="butt"/>
<line x1="689.40" y1="455.50" x2="689.40" y2="476.50" stroke="#ff0000" stroke-width="2.5" stroke-linecap="butt"/>
<line x1="685.30" y1="455.50" x2="693.50" y2="455.50" stroke="#ff0000" stroke-width="2.6" stroke-linecap="butt"/>
<line x1="685.30" y1="476.50" x2="693.50" y2="476.50" stroke="#ff0000" stroke-width="2.6" stroke-linecap="butt"/>
<line x1="746.80" y1="420.00" x2="746.80" y2="446.60" stroke="#ff0000" stroke-width="2.5" stroke-linecap="butt"/>
<line x1="742.70" y1="420.00" x2="750.90" y2="420.00" stroke="#ff0000" stroke-width="2.6" stroke-linecap="butt"/>
<line x1="742.70" y1="446.60" x2="750.90" y2="446.60" stroke="#ff0000" stroke-width="2.6" stroke-linecap="butt"/>
<polyline points="517.10,553.50 574.80,523.00 632.10,492.50 689.40,466.00 746.80,433.30" fill="none" stroke="#e01414" stroke-width="2.1" stroke-linejoin="round"/>
<path d="M512.70,549.81L521.50,549.81L517.10,558.01Z" fill="#ff0000"/>
<path d="M570.40,519.31L579.20,519.31L574.80,527.51Z" fill="#ff0000"/>
<path d="M627.70,488.81L636.50,488.81L632.10,497.01Z" fill="#ff0000"/>
<path d="M685.00,462.31L693.80,462.31L689.40,470.51Z" fill="#ff0000"/>
<path d="M742.40,429.61L751.20,429.61L746.80,437.81Z" fill="#ff0000"/>
<line x1="574.80" y1="510.50" x2="574.80" y2="520.50" stroke="#000" stroke-width="2.5" stroke-linecap="butt"/>
<line x1="570.70" y1="510.50" x2="578.90" y2="510.50" stroke="#000" stroke-width="2.6" stroke-linecap="butt"/>
<line x1="570.70" y1="520.50" x2="578.90" y2="520.50" stroke="#000" stroke-width="2.6" stroke-linecap="butt"/>
<line x1="632.10" y1="472.50" x2="632.10" y2="489.50" stroke="#000" stroke-width="2.5" stroke-linecap="butt"/>
<line x1="628.00" y1="472.50" x2="636.20" y2="472.50" stroke="#000" stroke-width="2.6" stroke-linecap="butt"/>
<line x1="628.00" y1="489.50" x2="636.20" y2="489.50" stroke="#000" stroke-width="2.6" stroke-linecap="butt"/>
<line x1="689.40" y1="430.30" x2="689.40" y2="454.70" stroke="#000" stroke-width="2.5" stroke-linecap="butt"/>
<line x1="685.30" y1="430.30" x2="693.50" y2="430.30" stroke="#000" stroke-width="2.6" stroke-linecap="butt"/>
<line x1="685.30" y1="454.70" x2="693.50" y2="454.70" stroke="#000" stroke-width="2.6" stroke-linecap="butt"/>
<line x1="746.80" y1="391.80" x2="746.80" y2="422.80" stroke="#000" stroke-width="2.5" stroke-linecap="butt"/>
<line x1="742.70" y1="391.80" x2="750.90" y2="391.80" stroke="#000" stroke-width="2.6" stroke-linecap="butt"/>
<line x1="742.70" y1="422.80" x2="750.90" y2="422.80" stroke="#000" stroke-width="2.6" stroke-linecap="butt"/>
<polyline points="517.10,553.50 574.80,515.50 632.10,481.00 689.40,442.50 746.80,407.30" fill="none" stroke="#000" stroke-width="2.1" stroke-linejoin="round"/>
<circle cx="517.10" cy="553.50" r="4.1" fill="#000"/>
<circle cx="574.80" cy="515.50" r="4.1" fill="#000"/>
<circle cx="632.10" cy="481.00" r="4.1" fill="#000"/>
<circle cx="689.40" cy="442.50" r="4.1" fill="#000"/>
<circle cx="746.80" cy="407.30" r="4.1" fill="#000"/>
<line x1="574.80" y1="528.00" x2="574.80" y2="533.00" stroke="#ff0000" stroke-width="2.5" stroke-linecap="butt"/>
<line x1="570.70" y1="528.00" x2="578.90" y2="528.00" stroke="#ff0000" stroke-width="2.6" stroke-linecap="butt"/>
<line x1="570.70" y1="533.00" x2="578.90" y2="533.00" stroke="#ff0000" stroke-width="2.6" stroke-linecap="butt"/>
<line x1="632.10" y1="505.50" x2="632.10" y2="517.50" stroke="#ff0000" stroke-width="2.5" stroke-linecap="butt"/>
<line x1="628.00" y1="505.50" x2="636.20" y2="505.50" stroke="#ff0000" stroke-width="2.6" stroke-linecap="butt"/>
<line x1="628.00" y1="517.50" x2="636.20" y2="517.50" stroke="#ff0000" stroke-width="2.6" stroke-linecap="butt"/>
<line x1="689.40" y1="482.20" x2="689.40" y2="498.20" stroke="#ff0000" stroke-width="2.5" stroke-linecap="butt"/>
<line x1="685.30" y1="482.20" x2="693.50" y2="482.20" stroke="#ff0000" stroke-width="2.6" stroke-linecap="butt"/>
<line x1="685.30" y1="498.20" x2="693.50" y2="498.20" stroke="#ff0000" stroke-width="2.6" stroke-linecap="butt"/>
<line x1="746.80" y1="467.70" x2="746.80" y2="486.30" stroke="#ff0000" stroke-width="2.5" stroke-linecap="butt"/>
<line x1="742.70" y1="467.70" x2="750.90" y2="467.70" stroke="#ff0000" stroke-width="2.6" stroke-linecap="butt"/>
<line x1="742.70" y1="486.30" x2="750.90" y2="486.30" stroke="#ff0000" stroke-width="2.6" stroke-linecap="butt"/>
<polyline points="517.10,553.50 574.80,530.50 632.10,511.50 689.40,490.20 746.80,477.00" fill="none" stroke="#e01414" stroke-width="2.1" stroke-linejoin="round"/>
<rect x="512.80" y="549.20" width="8.6" height="8.6" fill="#ff0000"/>
<rect x="570.50" y="526.20" width="8.6" height="8.6" fill="#ff0000"/>
<rect x="627.80" y="507.20" width="8.6" height="8.6" fill="#ff0000"/>
<rect x="685.10" y="485.90" width="8.6" height="8.6" fill="#ff0000"/>
<rect x="742.50" y="472.70" width="8.6" height="8.6" fill="#ff0000"/>
<line x1="574.80" y1="533.50" x2="574.80" y2="537.50" stroke="#000" stroke-width="2.5" stroke-linecap="butt"/>
<line x1="570.70" y1="533.50" x2="578.90" y2="533.50" stroke="#000" stroke-width="2.6" stroke-linecap="butt"/>
<line x1="570.70" y1="537.50" x2="578.90" y2="537.50" stroke="#000" stroke-width="2.6" stroke-linecap="butt"/>
<line x1="632.10" y1="509.30" x2="632.10" y2="521.30" stroke="#000" stroke-width="2.5" stroke-linecap="butt"/>
<line x1="628.00" y1="509.30" x2="636.20" y2="509.30" stroke="#000" stroke-width="2.6" stroke-linecap="butt"/>
<line x1="628.00" y1="521.30" x2="636.20" y2="521.30" stroke="#000" stroke-width="2.6" stroke-linecap="butt"/>
<line x1="689.40" y1="478.00" x2="689.40" y2="496.20" stroke="#000" stroke-width="2.5" stroke-linecap="butt"/>
<line x1="685.30" y1="478.00" x2="693.50" y2="478.00" stroke="#000" stroke-width="2.6" stroke-linecap="butt"/>
<line x1="685.30" y1="496.20" x2="693.50" y2="496.20" stroke="#000" stroke-width="2.6" stroke-linecap="butt"/>
<line x1="746.80" y1="459.40" x2="746.80" y2="481.40" stroke="#000" stroke-width="2.5" stroke-linecap="butt"/>
<line x1="742.70" y1="459.40" x2="750.90" y2="459.40" stroke="#000" stroke-width="2.6" stroke-linecap="butt"/>
<line x1="742.70" y1="481.40" x2="750.90" y2="481.40" stroke="#000" stroke-width="2.6" stroke-linecap="butt"/>
<polyline points="517.10,553.50 574.80,535.50 632.10,515.30 689.40,487.10 746.80,470.40" fill="none" stroke="#000" stroke-width="2.1" stroke-linejoin="round"/>
<path d="M512.70,557.28L521.50,557.28L517.10,548.88Z" fill="#000"/>
<path d="M570.40,539.28L579.20,539.28L574.80,530.88Z" fill="#000"/>
<path d="M627.70,519.08L636.50,519.08L632.10,510.68Z" fill="#000"/>
<path d="M685.00,490.88L693.80,490.88L689.40,482.48Z" fill="#000"/>
<path d="M742.40,474.18L751.20,474.18L746.80,465.78Z" fill="#000"/>
<line x1="762.40" y1="431.20" x2="762.40" y2="479.80" stroke="#000" stroke-width="2.9" stroke-linecap="butt"/>
<line x1="753.20" y1="432.60" x2="771.80" y2="432.60" stroke="#000" stroke-width="2.9" stroke-linecap="butt"/>
<line x1="753.20" y1="478.40" x2="771.80" y2="478.40" stroke="#000" stroke-width="2.9" stroke-linecap="butt"/>
<text x="770.30" y="467.85" font-size="25" font-weight="bold" text-anchor="middle">*</text>
<line x1="781.60" y1="405.20" x2="781.60" y2="474.80" stroke="#000" stroke-width="2.9" stroke-linecap="butt"/>
<line x1="772.10" y1="406.60" x2="790.70" y2="406.60" stroke="#000" stroke-width="2.9" stroke-linecap="butt"/>
<line x1="772.10" y1="473.40" x2="790.70" y2="473.40" stroke="#000" stroke-width="2.9" stroke-linecap="butt"/>
<text x="790.80" y="452.95" font-size="25" font-weight="bold" text-anchor="middle">*</text>
<text x="632.40" y="331.10" font-size="20" font-weight="bold" text-anchor="middle">CAL27/CDDP</text>
<line x1="495.00" y1="367.20" x2="516.90" y2="367.20" stroke="#000" stroke-width="2.1" stroke-linecap="butt"/>
<circle cx="505.95" cy="367.20" r="4.1" fill="#000"/>
<text x="529.80" y="372.10" font-size="16" font-weight="normal" text-anchor="start">miR-NC</text>
<line x1="495.00" y1="387.90" x2="516.90" y2="387.90" stroke="#000" stroke-width="2.1" stroke-linecap="butt"/>
<path d="M501.55,391.68L510.35,391.68L505.95,383.28Z" fill="#000"/>
<text x="529.80" y="393.00" font-size="16" font-weight="normal" text-anchor="start" textLength="70.6" lengthAdjust="spacing">miR-133b</text>
<line x1="495.00" y1="409.60" x2="516.90" y2="409.60" stroke="#e01414" stroke-width="2.1" stroke-linecap="butt"/>
<rect x="501.65" y="405.30" width="8.6" height="8.6" fill="#ff0000"/>
<text x="529.80" y="413.90" font-size="16" font-weight="normal" text-anchor="start" textLength="135.3" lengthAdjust="spacing">miR-133b+pcDNA</text>
<line x1="495.00" y1="432.50" x2="516.90" y2="432.50" stroke="#e01414" stroke-width="2.1" stroke-linecap="butt"/>
<path d="M501.55,428.81L510.35,428.81L505.95,437.01Z" fill="#ff0000"/>
<text x="529.80" y="437.70" font-size="16" font-weight="normal" text-anchor="start" textLength="121.6" lengthAdjust="spacing">miR-133b+TUG1</text>
<text x="423.50" y="336.00" font-size="21" font-weight="bold" text-anchor="start">d</text>
<text transform="translate(438.30,465.85) rotate(-90)" x="0" y="0" font-size="22" font-weight="bold" text-anchor="middle" textLength="222.7" lengthAdjust="spacing">OD value (λ=450 nm)</text>
<line x1="78.70" y1="665.80" x2="78.70" y2="874.90" stroke="#000" stroke-width="2.2" stroke-linecap="butt"/>
<line x1="72.80" y1="873.80" x2="78.70" y2="873.80" stroke="#000" stroke-width="1.8" stroke-linecap="butt"/>
<text x="70.50" y="881.00" font-size="20" font-weight="bold" text-anchor="end">0</text>
<line x1="72.80" y1="822.00" x2="78.70" y2="822.00" stroke="#000" stroke-width="1.8" stroke-linecap="butt"/>
<text x="70.50" y="829.20" font-size="20" font-weight="bold" text-anchor="end">50</text>
<line x1="72.80" y1="770.25" x2="78.70" y2="770.25" stroke="#000" stroke-width="1.8" stroke-linecap="butt"/>
<text x="70.50" y="777.45" font-size="20" font-weight="bold" text-anchor="end">100</text>
<line x1="72.80" y1="718.50" x2="78.70" y2="718.50" stroke="#000" stroke-width="1.8" stroke-linecap="butt"/>
<text x="70.50" y="725.70" font-size="20" font-weight="bold" text-anchor="end">150</text>
<line x1="72.80" y1="666.70" x2="78.70" y2="666.70" stroke="#000" stroke-width="1.8" stroke-linecap="butt"/>
<text x="70.50" y="673.90" font-size="20" font-weight="bold" text-anchor="end">200</text>
<line x1="77.60" y1="873.80" x2="370.20" y2="873.80" stroke="#000" stroke-width="2.2" stroke-linecap="butt"/>
<line x1="151.20" y1="873.80" x2="151.20" y2="879.10" stroke="#000" stroke-width="1.8" stroke-linecap="butt"/>
<line x1="296.30" y1="873.80" x2="296.30" y2="879.10" stroke="#000" stroke-width="1.8" stroke-linecap="butt"/>
<line x1="104.60" y1="770.00" x2="104.60" y2="757.20" stroke="#000" stroke-width="2.7" stroke-linecap="butt"/>
<line x1="99.40" y1="757.20" x2="109.50" y2="757.20" stroke="#000" stroke-width="2.7" stroke-linecap="butt"/>
<rect x="94.70" y="770.50" width="19.80" height="103.30" fill="#fff" stroke="#000" stroke-width="3.0"/>
<line x1="135.80" y1="836.30" x2="135.80" y2="833.20" stroke="#000" stroke-width="2.7" stroke-linecap="butt"/>
<line x1="131.00" y1="833.20" x2="140.90" y2="833.20" stroke="#000" stroke-width="2.7" stroke-linecap="butt"/>
<rect x="125.70" y="836.80" width="20.20" height="37.00" fill="#a0a0a4" stroke="#000" stroke-width="3.0"/>
<line x1="166.80" y1="839.10" x2="166.80" y2="836.70" stroke="#000" stroke-width="2.7" stroke-linecap="butt"/>
<line x1="162.10" y1="836.70" x2="171.60" y2="836.70" stroke="#000" stroke-width="2.7" stroke-linecap="butt"/>
<rect x="156.70" y="839.60" width="20.20" height="34.20" fill="#646464" stroke="#000" stroke-width="3.0"/>
<line x1="198.15" y1="784.70" x2="198.15" y2="776.30" stroke="#000" stroke-width="2.7" stroke-linecap="butt"/>
<line x1="192.80" y1="776.30" x2="202.90" y2="776.30" stroke="#000" stroke-width="2.7" stroke-linecap="butt"/>
<rect x="187.80" y="785.20" width="20.70" height="88.60" fill="#000" stroke="#000" stroke-width="3.0"/>
<line x1="249.95" y1="770.00" x2="249.95" y2="759.20" stroke="#000" stroke-width="2.7" stroke-linecap="butt"/>
<line x1="244.40" y1="759.20" x2="254.80" y2="759.20" stroke="#000" stroke-width="2.7" stroke-linecap="butt"/>
<rect x="240.00" y="770.50" width="19.90" height="103.30" fill="#fff" stroke="#000" stroke-width="3.0"/>
<line x1="280.90" y1="842.30" x2="280.90" y2="840.00" stroke="#000" stroke-width="2.7" stroke-linecap="butt"/>
<line x1="276.00" y1="840.00" x2="285.50" y2="840.00" stroke="#000" stroke-width="2.7" stroke-linecap="butt"/>
<rect x="270.70" y="842.80" width="20.40" height="31.00" fill="#a0a0a4" stroke="#000" stroke-width="3.0"/>
<line x1="312.10" y1="839.20" x2="312.10" y2="837.00" stroke="#000" stroke-width="2.7" stroke-linecap="butt"/>
<line x1="307.00" y1="837.00" x2="316.90" y2="837.00" stroke="#000" stroke-width="2.7" stroke-linecap="butt"/>
<rect x="302.10" y="839.70" width="20.00" height="34.10" fill="#646464" stroke="#000" stroke-width="3.0"/>
<line x1="343.25" y1="795.80" x2="343.25" y2="788.60" stroke="#000" stroke-width="2.7" stroke-linecap="butt"/>
<line x1="338.10" y1="788.60" x2="347.90" y2="788.60" stroke="#000" stroke-width="2.7" stroke-linecap="butt"/>
<rect x="333.10" y="796.30" width="20.30" height="77.50" fill="#000" stroke="#000" stroke-width="3.0"/>
<line x1="104.30" y1="736.30" x2="104.30" y2="754.30" stroke="#000" stroke-width="2.7" stroke-linecap="butt"/>
<line x1="142.70" y1="736.30" x2="142.70" y2="754.30" stroke="#000" stroke-width="2.7" stroke-linecap="butt"/>
<line x1="104.30" y1="745.00" x2="142.70" y2="745.00" stroke="#000" stroke-width="2.7" stroke-linecap="butt"/>
<text x="123.70" y="751.25" font-size="25" font-weight="bold" text-anchor="middle">*</text>
<line x1="160.50" y1="754.30" x2="160.50" y2="771.90" stroke="#000" stroke-width="2.7" stroke-linecap="butt"/>
<line x1="198.80" y1="754.30" x2="198.80" y2="771.90" stroke="#000" stroke-width="2.7" stroke-linecap="butt"/>
<line x1="160.50" y1="762.80" x2="198.80" y2="762.80" stroke="#000" stroke-width="2.7" stroke-linecap="butt"/>
<text x="180.50" y="769.65" font-size="25" font-weight="bold" text-anchor="middle">*</text>
<line x1="248.80" y1="737.60" x2="248.80" y2="755.60" stroke="#000" stroke-width="2.7" stroke-linecap="butt"/>
<line x1="287.50" y1="737.60" x2="287.50" y2="755.60" stroke="#000" stroke-width="2.7" stroke-linecap="butt"/>
<line x1="248.80" y1="746.10" x2="287.50" y2="746.10" stroke="#000" stroke-width="2.7" stroke-linecap="butt"/>
<text x="268.70" y="753.35" font-size="25" font-weight="bold" text-anchor="middle">*</text>
<line x1="305.10" y1="768.20" x2="305.10" y2="786.10" stroke="#000" stroke-width="2.7" stroke-linecap="butt"/>
<line x1="343.50" y1="768.20" x2="343.50" y2="786.10" stroke="#000" stroke-width="2.7" stroke-linecap="butt"/>
<line x1="305.10" y1="776.80" x2="343.50" y2="776.80" stroke="#000" stroke-width="2.7" stroke-linecap="butt"/>
<text x="324.70" y="783.55" font-size="25" font-weight="bold" text-anchor="middle">*</text>
<text x="151.10" y="901.60" font-size="20" font-weight="bold" text-anchor="middle">SCC25/CDDP</text>
<text x="296.30" y="901.60" font-size="20" font-weight="bold" text-anchor="middle">CAL27/CDDP</text>
<rect x="84.85" y="660.15" width="21.50" height="10.10" fill="#fff" stroke="#000" stroke-width="3.3"/>
<text x="118.90" y="671.50" font-size="16" font-weight="normal" text-anchor="start">miR-NC</text>
<rect x="84.85" y="676.75" width="21.50" height="10.30" fill="#a0a0a4" stroke="#000" stroke-width="3.3"/>
<text x="118.90" y="687.60" font-size="16" font-weight="normal" text-anchor="start" textLength="70.6" lengthAdjust="spacing">miR-133b</text>
<rect x="84.85" y="693.35" width="21.50" height="10.50" fill="#646464" stroke="#000" stroke-width="3.3"/>
<text x="118.90" y="704.30" font-size="16" font-weight="normal" text-anchor="start" textLength="135.3" lengthAdjust="spacing">miR-133b+pcDNA</text>
<rect x="84.85" y="711.75" width="21.50" height="10.50" fill="#000" stroke="#000" stroke-width="3.3"/>
<text x="118.90" y="721.90" font-size="16" font-weight="normal" text-anchor="start" textLength="121.6" lengthAdjust="spacing">miR-133b+TUG1</text>
<text x="-0.80" y="639.80" font-size="21" font-weight="bold" text-anchor="start">e</text>
<text transform="translate(24.60,769.55) rotate(-90)" x="0" y="0" font-size="22" font-weight="bold" text-anchor="middle" textLength="240.7" lengthAdjust="spacing">Cell invasion ability (%)</text>
<line x1="492.00" y1="665.10" x2="492.00" y2="875.20" stroke="#000" stroke-width="2.2" stroke-linecap="butt"/>
<line x1="486.10" y1="874.10" x2="492.00" y2="874.10" stroke="#000" stroke-width="1.8" stroke-linecap="butt"/>
<text x="484.00" y="881.30" font-size="20" font-weight="bold" text-anchor="end">0</text>
<line x1="486.10" y1="804.80" x2="492.00" y2="804.80" stroke="#000" stroke-width="1.8" stroke-linecap="butt"/>
<text x="484.00" y="812.00" font-size="20" font-weight="bold" text-anchor="end">20</text>
<line x1="486.10" y1="735.40" x2="492.00" y2="735.40" stroke="#000" stroke-width="1.8" stroke-linecap="butt"/>
<text x="484.00" y="742.60" font-size="20" font-weight="bold" text-anchor="end">40</text>
<line x1="486.10" y1="666.00" x2="492.00" y2="666.00" stroke="#000" stroke-width="1.8" stroke-linecap="butt"/>
<text x="484.00" y="673.20" font-size="20" font-weight="bold" text-anchor="end">60</text>
<line x1="490.90" y1="874.10" x2="771.10" y2="874.10" stroke="#000" stroke-width="2.2" stroke-linecap="butt"/>
<line x1="561.30" y1="874.10" x2="561.30" y2="879.10" stroke="#000" stroke-width="1.8" stroke-linecap="butt"/>
<line x1="700.30" y1="874.10" x2="700.30" y2="879.10" stroke="#000" stroke-width="1.8" stroke-linecap="butt"/>
<line x1="516.40" y1="852.90" x2="516.40" y2="851.40" stroke="#000" stroke-width="2.7" stroke-linecap="butt"/>
<line x1="512.10" y1="851.40" x2="521.10" y2="851.40" stroke="#000" stroke-width="2.7" stroke-linecap="butt"/>
<rect x="506.60" y="853.40" width="19.60" height="20.70" fill="#fff" stroke="#000" stroke-width="3.0"/>
<line x1="546.70" y1="783.50" x2="546.70" y2="775.10" stroke="#000" stroke-width="2.7" stroke-linecap="butt"/>
<line x1="541.90" y1="775.10" x2="551.30" y2="775.10" stroke="#000" stroke-width="2.7" stroke-linecap="butt"/>
<rect x="537.00" y="784.00" width="19.40" height="90.10" fill="#a0a0a4" stroke="#000" stroke-width="3.0"/>
<line x1="576.85" y1="776.10" x2="576.85" y2="766.90" stroke="#000" stroke-width="2.7" stroke-linecap="butt"/>
<line x1="572.10" y1="766.90" x2="581.20" y2="766.90" stroke="#000" stroke-width="2.7" stroke-linecap="butt"/>
<rect x="567.10" y="776.60" width="19.50" height="97.50" fill="#646464" stroke="#000" stroke-width="3.0"/>
<line x1="606.30" y1="832.00" x2="606.30" y2="828.70" stroke="#000" stroke-width="2.7" stroke-linecap="butt"/>
<line x1="601.50" y1="828.70" x2="611.00" y2="828.70" stroke="#000" stroke-width="2.7" stroke-linecap="butt"/>
<rect x="596.60" y="832.50" width="19.40" height="41.60" fill="#000" stroke="#000" stroke-width="3.0"/>
<line x1="655.60" y1="846.30" x2="655.60" y2="843.70" stroke="#000" stroke-width="2.7" stroke-linecap="butt"/>
<line x1="651.10" y1="843.70" x2="660.40" y2="843.70" stroke="#000" stroke-width="2.7" stroke-linecap="butt"/>
<rect x="646.10" y="846.80" width="19.00" height="27.30" fill="#fff" stroke="#000" stroke-width="3.0"/>
<line x1="685.50" y1="769.60" x2="685.50" y2="759.60" stroke="#000" stroke-width="2.7" stroke-linecap="butt"/>
<line x1="680.80" y1="759.60" x2="690.10" y2="759.60" stroke="#000" stroke-width="2.7" stroke-linecap="butt"/>
<rect x="675.80" y="770.10" width="19.40" height="104.00" fill="#a0a0a4" stroke="#000" stroke-width="3.0"/>
<line x1="715.55" y1="776.60" x2="715.55" y2="767.80" stroke="#000" stroke-width="2.7" stroke-linecap="butt"/>
<line x1="710.60" y1="767.80" x2="720.00" y2="767.80" stroke="#000" stroke-width="2.7" stroke-linecap="butt"/>
<rect x="706.00" y="777.10" width="19.10" height="97.00" fill="#646464" stroke="#000" stroke-width="3.0"/>
<line x1="745.30" y1="825.10" x2="745.30" y2="820.50" stroke="#000" stroke-width="2.7" stroke-linecap="butt"/>
<line x1="740.40" y1="820.50" x2="749.70" y2="820.50" stroke="#000" stroke-width="2.7" stroke-linecap="butt"/>
<rect x="735.70" y="825.60" width="19.20" height="48.50" fill="#000" stroke="#000" stroke-width="3.0"/>
<line x1="517.50" y1="754.40" x2="517.50" y2="772.30" stroke="#000" stroke-width="2.7" stroke-linecap="butt"/>
<line x1="548.10" y1="754.40" x2="548.10" y2="772.30" stroke="#000" stroke-width="2.7" stroke-linecap="butt"/>
<line x1="517.50" y1="763.40" x2="548.10" y2="763.40" stroke="#000" stroke-width="2.7" stroke-linecap="butt"/>
<text x="533.70" y="769.25" font-size="25" font-weight="bold" text-anchor="middle">*</text>
<line x1="576.30" y1="746.20" x2="576.30" y2="764.20" stroke="#000" stroke-width="2.7" stroke-linecap="butt"/>
<line x1="606.90" y1="746.20" x2="606.90" y2="764.20" stroke="#000" stroke-width="2.7" stroke-linecap="butt"/>
<line x1="576.30" y1="755.00" x2="606.90" y2="755.00" stroke="#000" stroke-width="2.7" stroke-linecap="butt"/>
<text x="592.50" y="761.95" font-size="25" font-weight="bold" text-anchor="middle">*</text>
<line x1="654.70" y1="738.40" x2="654.70" y2="756.30" stroke="#000" stroke-width="2.7" stroke-linecap="butt"/>
<line x1="684.90" y1="738.40" x2="684.90" y2="756.30" stroke="#000" stroke-width="2.7" stroke-linecap="butt"/>
<line x1="654.70" y1="747.40" x2="684.90" y2="747.40" stroke="#000" stroke-width="2.7" stroke-linecap="butt"/>
<text x="670.50" y="753.75" font-size="25" font-weight="bold" text-anchor="middle">*</text>
<line x1="715.10" y1="746.90" x2="715.10" y2="764.80" stroke="#000" stroke-width="2.7" stroke-linecap="butt"/>
<line x1="745.30" y1="746.90" x2="745.30" y2="764.80" stroke="#000" stroke-width="2.7" stroke-linecap="butt"/>
<line x1="715.10" y1="755.80" x2="745.30" y2="755.80" stroke="#000" stroke-width="2.7" stroke-linecap="butt"/>
<text x="731.00" y="762.75" font-size="25" font-weight="bold" text-anchor="middle">*</text>
<text x="561.30" y="901.60" font-size="20" font-weight="bold" text-anchor="middle">SCC25/CDDP</text>
<text x="700.30" y="901.60" font-size="20" font-weight="bold" text-anchor="middle">CAL27/CDDP</text>
<rect x="501.05" y="662.75" width="21.50" height="10.20" fill="#fff" stroke="#000" stroke-width="3.3"/>
<text x="535.70" y="672.60" font-size="16" font-weight="normal" text-anchor="start">miR-NC</text>
<rect x="501.05" y="680.25" width="21.50" height="10.10" fill="#a0a0a4" stroke="#000" stroke-width="3.3"/>
<text x="535.70" y="690.60" font-size="16" font-weight="normal" text-anchor="start" textLength="70.6" lengthAdjust="spacing">miR-133b</text>
<rect x="501.05" y="697.65" width="21.50" height="10.50" fill="#646464" stroke="#000" stroke-width="3.3"/>
<text x="535.70" y="709.20" font-size="16" font-weight="normal" text-anchor="start" textLength="135.3" lengthAdjust="spacing">miR-133b+pcDNA</text>
<rect x="501.05" y="716.45" width="21.50" height="10.50" fill="#000" stroke="#000" stroke-width="3.3"/>
<text x="535.70" y="726.90" font-size="16" font-weight="normal" text-anchor="start" textLength="121.6" lengthAdjust="spacing">miR-133b+TUG1</text>
<text x="422.50" y="654.50" font-size="21" font-weight="bold" text-anchor="start">f</text>
<text transform="translate(449.40,765.45) rotate(-90)" x="0" y="0" font-size="22" font-weight="bold" text-anchor="middle" textLength="200.9" lengthAdjust="spacing">Apoptosis rate (%)</text>
</svg></body></html>
